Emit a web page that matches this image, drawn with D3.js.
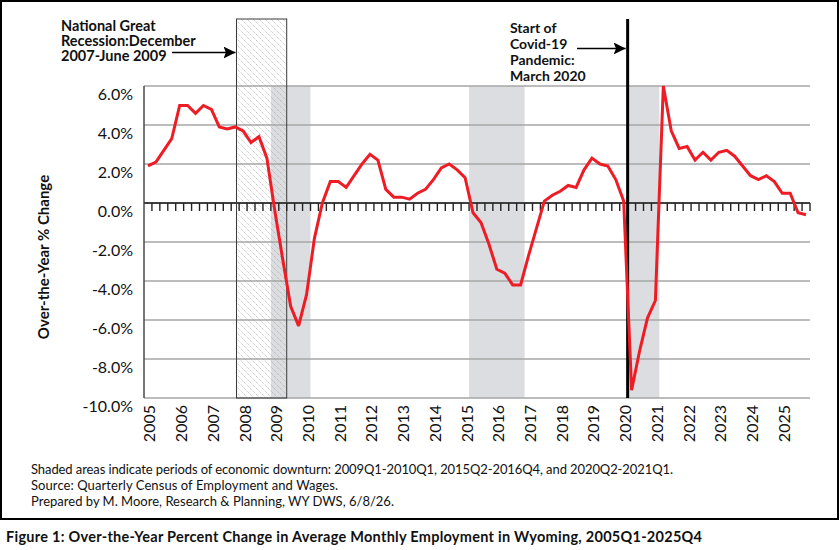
<!DOCTYPE html>
<html>
<head>
<meta charset="utf-8">
<script src="https://cdn.jsdelivr.net/npm/d3@7"></script>
<style>
  html, body { margin: 0; padding: 0; background: #fff; }
  svg { display: block; font-family: Lato, "Open Sans", sans-serif; }
</style>
</head>
<body>
<svg id="chart" width="840" height="550"></svg>
<script>
// ---------- data ----------
const years = [2005,2006,2007,2008,2009,2010,2011,2012,2013,2014,2015,2016,2017,2018,2019,2020,2021,2022,2023,2024,2025];
const quarterNames = ["Q1","Q2","Q3","Q4"];
const changePct = [
  1.9, 2.1, 2.7, 3.3,    // 2005
  5.0, 5.0, 4.6, 5.0,    // 2006
  4.8, 3.9, 3.8, 3.9,    // 2007
  3.7, 3.1, 3.4, 2.3,    // 2008
  -0.4, -2.9, -5.3, -6.3,// 2009
  -4.7, -1.8, 0.0, 1.1,  // 2010
  1.1, 0.8, 1.4, 2.0,    // 2011
  2.5, 2.2, 0.7, 0.3,    // 2012
  0.3, 0.2, 0.5, 0.7,    // 2013
  1.2, 1.8, 2.0, 1.7,    // 2014
  1.3, -0.5, -1.0, -2.1, // 2015
  -3.4, -3.6, -4.2, -4.2,// 2016
  -2.7, -1.3, 0.1, 0.4,  // 2017
  0.6, 0.9, 0.8, 1.7,    // 2018
  2.3, 2.0, 1.9, 1.2,    // 2019
  0.1, -9.6, -7.6, -5.9, // 2020
  -5.0, 6.0, 3.7, 2.8,   // 2021
  2.9, 2.2, 2.6, 2.2,    // 2022
  2.6, 2.7, 2.4, 1.9,    // 2023
  1.4, 1.2, 1.4, 1.1,    // 2024
  0.5, 0.5, -0.5, -0.6   // 2025
];
const yTicks = [6, 4, 2, 0, -2, -4, -6, -8, -10];
const downturns = [["2009Q1","2010Q1"], ["2015Q2","2016Q4"], ["2020Q2","2021Q1"]];
const recessionStart = {year: 2007, month: 12};   // start of December 2007
const recessionEnd = {year: 2009, month: 6};      // end of June 2009
const covidStart = {year: 2020, month: 3};        // end of March 2020
const recessionLabel = ["National Great", "Recession:December", "2007-June 2009"];
const covidLabel = ["Start of", "Covid-19", "Pandemic:", "March 2020"];
const yTitle = "Over-the-Year % Change";
const notes = [
  "Shaded areas indicate periods of economic downturn: 2009Q1-2010Q1, 2015Q2-2016Q4, and 2020Q2-2021Q1.",
  "Source: Quarterly Census of Employment and Wages.",
  "Prepared by M. Moore, Research & Planning, WY DWS, 6/8/26."
];
const figTitle = "Figure 1: Over-the-Year Percent Change in Average Monthly Employment in Wyoming, 2005Q1-2025Q4";

const categories = years.flatMap(y => quarterNames.map(q => y + q));
const series = categories.map((c, i) => ({cat: c, v: changePct[i]}));

// ---------- layout ----------
const svg = d3.select("#chart");
const L = 144, R = 810, T = 86, B = 398;
const x = d3.scaleBand().domain(categories).range([L, R]).paddingInner(0).paddingOuter(0);
const y = d3.scaleLinear().domain([-10, 6]).range([B, T]);
const bw = x.bandwidth();
const monthX = (ym, atEnd) => {
  const q = Math.floor((ym.month - 1) / 3);
  const cat = ym.year + quarterNames[q];
  const frac = ((ym.month - 1) % 3 + (atEnd ? 1 : 0)) / 3;
  return x(cat) + frac * bw;
};

// outer border
svg.append("rect").attr("x", 1).attr("y", 1).attr("width", 837).attr("height", 518)
  .attr("fill", "#fff").attr("stroke", "#000").attr("stroke-width", 2);

// hatch pattern
const defs = svg.append("defs");
const pat = defs.append("pattern").attr("id", "hatch").attr("patternUnits", "userSpaceOnUse")
  .attr("width", 6).attr("height", 6);
pat.append("path").attr("d", "M-1,-1 L7,7 M-1,5 L1,7 M5,-1 L7,1")
  .attr("stroke", "#9a9a9a").attr("stroke-width", 0.6).attr("stroke-dasharray", "1.4,0.9");

// downturn shading
svg.append("g").selectAll("rect").data(downturns).join("rect")
  .attr("x", d => x(d[0]))
  .attr("width", d => x(d[1]) + bw - x(d[0]))
  .attr("y", y(6)).attr("height", y(-10) - y(6))
  .attr("fill", "#dcdde0");

// gridlines
svg.append("g").selectAll("line").data(yTicks.filter(t => t !== 0)).join("line")
  .attr("x1", L).attr("x2", R).attr("y1", d => y(d)).attr("y2", d => y(d))
  .attr("stroke", "#a6a6a6").attr("stroke-width", 1.3);

// hatched recession box
const hx0 = monthX(recessionStart, false), hx1 = monthX(recessionEnd, true);
svg.append("rect").attr("x", hx0).attr("y", 19).attr("width", hx1 - hx0).attr("height", B - 19)
  .attr("fill", "url(#hatch)").attr("stroke", "#3a3a3a").attr("stroke-width", 1);

// y axis line
svg.append("line").attr("x1", L).attr("x2", L).attr("y1", T).attr("y2", B)
  .attr("stroke", "#4a4a4a").attr("stroke-width", 1.5);

// zero line with ticks
svg.append("line").attr("x1", L).attr("x2", R).attr("y1", y(0)).attr("y2", y(0))
  .attr("stroke", "#404040").attr("stroke-width", 2);
svg.append("g").selectAll("line").data(categories).join("line")
  .attr("x1", d => x(d) + bw).attr("x2", d => x(d) + bw)
  .attr("y1", y(0)).attr("y2", y(0) + 8)
  .attr("stroke", "#222").attr("stroke-width", 1.4);

// covid line
const cx = monthX(covidStart, true);
svg.append("line").attr("x1", cx).attr("x2", cx).attr("y1", 19).attr("y2", B)
  .attr("stroke", "#000").attr("stroke-width", 3);

// data line
svg.append("path").datum(series)
  .attr("fill", "none").attr("stroke", "#ee1c25").attr("stroke-width", 3)
  .attr("stroke-linejoin", "miter").attr("stroke-miterlimit", 3)
  .attr("d", d3.line().x(d => x(d.cat) + bw / 2).y(d => y(d.v)));

// y tick labels
svg.append("g").selectAll("text").data(yTicks).join("text")
  .attr("x", 133).attr("y", d => y(d) + 7)
  .attr("text-anchor", "end").attr("dominant-baseline", "central")
  .attr("font-size", 16).attr("fill", "#111")
  .text(d => d.toFixed(1) + "%");

// x labels (years)
svg.append("g").selectAll("text").data(years).join("text")
  .attr("transform", d => `translate(${x(d + "Q1") + bw / 2 + 1},405) rotate(-90)`)
  .attr("text-anchor", "end").attr("dominant-baseline", "central")
  .attr("font-size", 16).attr("fill", "#111")
  .text(d => d);

// y title
svg.append("text").attr("transform", "translate(43,257) rotate(-90)")
  .attr("text-anchor", "middle").attr("dominant-baseline", "central")
  .attr("font-size", 15).attr("font-weight", "bold").attr("fill", "#111")
  .text(yTitle);

// arrow marker
defs.append("marker").attr("id", "arrowBig").attr("viewBox", "0 0 10 10")
  .attr("refX", 10).attr("refY", 5).attr("markerWidth", 12).attr("markerHeight", 12)
  .attr("markerUnits", "userSpaceOnUse").attr("orient", "auto")
  .append("path").attr("d", "M0,0 L10,5 L0,10 L2,5 Z").attr("fill", "#000");

// annotations
svg.append("g").selectAll("text").data(recessionLabel).join("text")
  .attr("x", 61).attr("y", (d, i) => 25 + i * 15.3)
  .attr("dominant-baseline", "central").attr("font-size", 14.5).attr("font-weight", "bold").attr("fill", "#111")
  .text(d => d);
svg.append("line").attr("x1", 172).attr("x2", hx0 - 1).attr("y1", 52.5).attr("y2", 52.5)
  .attr("stroke", "#000").attr("stroke-width", 1.5).attr("marker-end", "url(#arrowBig)");

svg.append("g").selectAll("text").data(covidLabel).join("text")
  .attr("x", 510).attr("y", (d, i) => 27 + i * 16)
  .attr("dominant-baseline", "central").attr("font-size", 14).attr("font-weight", "bold").attr("fill", "#111")
  .text(d => d);
svg.append("line").attr("x1", 577).attr("x2", cx - 2).attr("y1", 48.5).attr("y2", 48.5)
  .attr("stroke", "#000").attr("stroke-width", 1.5).attr("marker-end", "url(#arrowBig)");

// notes
const noteEnds = [673, 338, 394];
svg.append("g").selectAll("text").data(notes).join("text")
  .attr("x", 31).attr("y", (d, i) => 469 + i * 16)
  .attr("dominant-baseline", "central").attr("font-size", 13).attr("fill", "#111")
  .attr("textLength", (d, i) => noteEnds[i] - 31)
  .text(d => d);

// figure title
svg.append("text").attr("x", 6).attr("y", 536.5)
  .attr("dominant-baseline", "central").attr("font-size", 14.5).attr("font-weight", "bold").attr("fill", "#111")
  .attr("textLength", 696)
  .text(figTitle);
</script>
</body>
</html>
